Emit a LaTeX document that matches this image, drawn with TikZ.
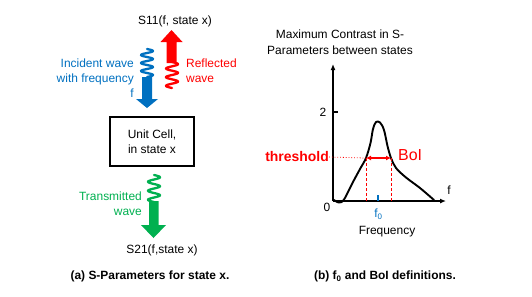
\documentclass[tikz,border=0pt]{standalone}
\usepackage{fontspec}
\setmainfont{Liberation Sans}
\usetikzlibrary{arrows.meta}
\definecolor{myblue}{RGB}{0,112,192}
\definecolor{myred}{RGB}{255,0,0}
\definecolor{mygreen}{RGB}{0,176,80}
\begin{document}
\begin{tikzpicture}[x=1bp,y=-1bp,
  lbl/.style={inner sep=0pt, font=\fontsize{12}{15}\selectfont},
  captext/.style={inner sep=0pt, font=\fontsize{12}{15}\selectfont\bfseries},
  wave/.style={line width=2.3bp, line cap=round, line join=round},
  axis/.style={line width=1.3bp, -{Latex[length=6bp,width=5bp]}},
  curve/.style={line width=1.9bp, line join=round, line cap=round}]
\useasboundingbox (0,0) rectangle (532,296);

% ---------- left panel ----------
\node[lbl] (s11) at (175,21) {S11(f, state x)};
\node[lbl, text=myblue, align=right, anchor=east] (inc) at (134,78) {Incident wave\\with frequency\\f};
\node[lbl, text=myred, align=left, anchor=west] (refl) at (186,70.5) {Reflected\\wave};
\node[lbl, draw, line width=1.5bp, minimum width=84bp, minimum height=49bp, align=center] (cell) at (152,141.5) {Unit Cell,\\in state x};
\node[lbl, text=mygreen, align=right, anchor=east] (trans) at (142,203.5) {Transmitted\\wave};
\node[lbl] (s21) at (162,250) {S21(f,state x)};
\node[captext] (capa) at (150,276.5) {(a) S-Parameters for state x.};

% blue incident wave + arrow
\draw[wave, myblue] plot[domain=0:1, samples=90, smooth] ({147+6*sin(\x*1260)},{49+28*\x});
\fill[myblue] (142,77) -- (152,77) -- (152,99) -- (158,99) -- (147,108) -- (136,99) -- (142,99) -- cycle;
% red reflected wave + arrow
\draw[wave, myred] plot[domain=0:1, samples=90, smooth] ({172-6*sin(\x*1080)},{88-26*\x});
\fill[myred] (166.5,63) -- (176.5,63) -- (176.5,42) -- (182.5,42) -- (171.5,30) -- (160.5,42) -- (166.5,42) -- cycle;
% green transmitted wave + arrow
\draw[wave, mygreen] plot[domain=0:1, samples=90, smooth] ({154+6*sin(\x*1080)},{175+27*\x});
\fill[mygreen] (149,201) -- (158.5,201) -- (158.5,225) -- (166,225) -- (153.5,238) -- (141,225) -- (149,225) -- cycle;

% ---------- right panel ----------
\node[lbl, align=center, font=\fontsize{12}{16}\selectfont] (title) at (340,42) {Maximum Contrast in S-\\Parameters between states};
\coordinate (o) at (333,201);
\coordinate (ytop) at (333,64);
\coordinate (xend) at (446,201);
\draw[axis] (o) -- (ytop);
\draw[axis] (o) -- (xend);
\draw[line width=1.1bp] (333,112) -- (338,112);
\node[lbl] (two) at (323,112) {2};
\node[lbl] (zero) at (327,207) {0};
\node[lbl] (flab) at (449,190) {f};
\coordinate (f0) at (378,201);
\draw[myblue, line width=1.1bp] (f0) -- ++(0,-6);
\node[lbl, text=myblue] (f0lab) at (378.5,214) {f\textsubscript{0}};
\node[lbl] (freq) at (387,232) {Frequency};

\draw[curve] plot[smooth, tension=0.55] coordinates {(334,200) (339,202.5) (344,199.5) (353,182) (360,169) (366,158) (370.5,143) (373,129) (376,122) (380,122.5) (384,130) (387.5,146) (391,158) (396,168) (406,177.5) (420,188) (434,200)};

\coordinate (thL) at (366,158);
\coordinate (thR) at (391,158);
\node[inner sep=0pt, text=myred, font=\fontsize{14}{16}\selectfont\bfseries, anchor=east] (thr) at (329,157) {threshold};
\node[inner sep=0pt, text=myred, font=\fontsize{16}{18}\selectfont, anchor=west] (boi) at (398,155) {BoI};
\draw[myred, dotted, line width=0.8bp] (thr.east) -- (thL);
\draw[myred, line width=1.6bp, {Latex[length=5bp,width=5bp]}-{Latex[length=5bp,width=5bp]}] (thL) -- (thR);
\draw[myred, dashed, dash pattern=on 3bp off 2bp, line width=0.9bp] (thL) -- (thL |- o);
\draw[myred, dashed, dash pattern=on 3bp off 2bp, line width=0.9bp] (thR) -- (thR |- o);

\node[captext] (capb) at (385,276.5) {(b) f\textsubscript{0} and BoI definitions.};
\end{tikzpicture}
\end{document}
